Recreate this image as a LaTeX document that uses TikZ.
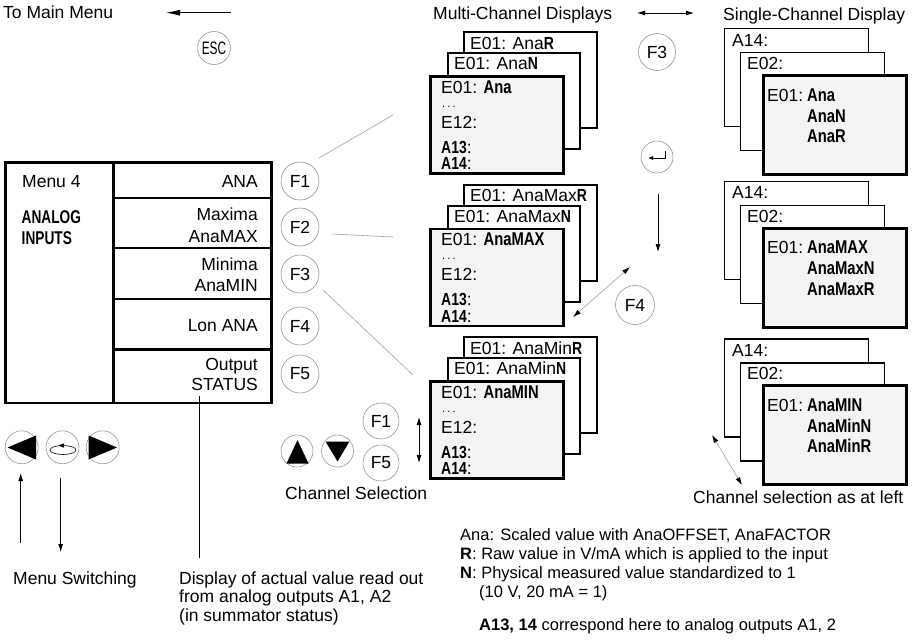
\documentclass[tikz,border=0pt]{standalone}
\usepackage{fontspec}
\setmainfont{Liberation Sans}
\newfontfamily\cbf[FakeStretch=0.8]{Liberation Sans}
\newfontfamily\cbt[FakeStretch=0.74]{Liberation Sans}
\newfontfamily\cnd[FakeStretch=0.66]{Liberation Sans}
\usetikzlibrary{arrows.meta}
\definecolor{keygray}{HTML}{959595}
\definecolor{linkgray}{HTML}{A0A0A0}
\definecolor{panel}{HTML}{F4F4F4}
\newcommand\cb[1]{{\cbf\bfseries\fontsize{18.5}{20}\selectfont #1}}
\newcommand\cs[1]{{\cbf\bfseries\fontsize{17.5}{20}\selectfont #1}}
\newcommand\ct[1]{{\cbt\bfseries\fontsize{18.5}{20}\selectfont #1}}
\tikzset{
  txt/.style={inner sep=0pt, anchor=base west, font=\fontsize{17.5}{20}\selectfont},
  txtr/.style={txt, anchor=base east},
  legtxt/.style={inner sep=0pt, anchor=base west, font=\fontsize{16.5}{19}\selectfont},
  fkey/.style={circle, draw=keygray, line width=0.6pt, minimum size=38pt, inner sep=0pt, font=\fontsize{17.5}{20}\selectfont},
  link/.style={draw=linkgray, line width=0.6pt},
  arr/.style={-{Latex[length=8pt,width=5pt]}, line width=0.8pt},
  darr/.style={{Latex[length=8pt,width=5pt]}-{Latex[length=8pt,width=5pt]}, line width=0.8pt},
  gdarr/.style={{Latex[length=8pt,width=5pt,color=black]}-{Latex[length=8pt,width=5pt,color=black]}, draw=linkgray, line width=0.6pt},
  cell/.style={draw, line width=2.8pt, anchor=north west, inner sep=0pt},
  mbox/.style={draw, fill=white, line width=2.4pt, anchor=north west, inner sep=0pt},
  sbox/.style={draw, fill=white, line width=1.2pt, anchor=north west, inner sep=0pt},
  frontbox/.style={draw, fill=panel, line width=2.8pt, anchor=north west, inner sep=0pt},
}
% multi-channel stack: #1 prefix, #2 shift, #3 R line, #4 N line, #5 first line
\newcommand\mstack[5]{%
\begin{scope}[yshift=-#2pt]
 \node[mbox, minimum width=133pt, minimum height=96pt] (#1b) at (463,31) {};
 \node[mbox, minimum width=132pt, minimum height=96pt] (#1m) at (447,52) {};
 \node[frontbox, minimum width=133pt, minimum height=97pt] (#1f) at (429,75) {};
 \node[txt] (#1tr) at (470,49) {#3};
 \node[txt] (#1tn) at (454,69.5) {#4};
 \node[txt] (#1ta) at (441,93) {#5};
 \node[txt, font=\fontsize{11}{12}\selectfont] (#1tb) at (442,107) {.\kern2.2pt.\kern2.2pt.};
 \node[txt] (#1tc) at (441,128) {E12:};
 \node[txt] (#1td) at (441,153) {\cs{A13}:};
 \node[txt] (#1te) at (441,169.5) {\cs{A14}:};
\end{scope}}
% single-channel stack: #1 prefix, #2 shift, #3 #4 #5 values
\newcommand\sstack[5]{%
\begin{scope}[yshift=-#2pt]
 \node[sbox, minimum width=144pt, minimum height=98pt] (#1b) at (724,28) {};
 \node[sbox, minimum width=144pt, minimum height=98pt] (#1m) at (740,52) {};
 \node[frontbox, minimum width=143pt, minimum height=99pt] (#1f) at (762,74) {};
 \node[txt] (#1ta) at (732,46) {A14:};
 \node[txt] (#1tb) at (747,69.5) {E02:};
 \node[txt] (#1tc) at (767,101) {E01:};
 \node[txt] (#1v1) at (807,101) {\cb{#3}};
 \node[txt] (#1v2) at (807,122) {\cb{#4}};
 \node[txt] (#1v3) at (807,142.5) {\cb{#5}};
\end{scope}}
\begin{document}
\begin{tikzpicture}[x=1pt,y=-1pt]
\useasboundingbox (0,0) rectangle (916,640);
% top left
\node[txt] (tomain) at (3,18) {To Main Menu};
\coordinate (escA) at (231,12.7);
\coordinate (escB) at (166,12.7);
\draw[-{Latex[length=14pt,width=6pt]}, line width=0.8pt] (escA) -- (escB);
\node[fkey, minimum size=33pt, font=\cnd\fontsize{18}{18}\selectfont] (esc) at (214,48) {ESC};
% menu box
\node[cell, minimum width=108pt, minimum height=240.5pt] (mleft) at (4,161) {};
\node[cell, minimum width=158pt, minimum height=35.5pt] (r1) at (112,161) {};
\node[cell, minimum width=158pt, minimum height=50pt] (r2) at (112,196.5) {};
\node[cell, minimum width=158pt, minimum height=51pt] (r3) at (112,246.5) {};
\node[cell, minimum width=158pt, minimum height=50.5pt] (r4) at (112,297.5) {};
\node[cell, minimum width=158pt, minimum height=53.5pt] (r5) at (112,348) {};
\node[txt] (mtitle) at (22,187) {Menu 4};
\node[txt] (an1) at (21.5,223) {\ct{ANALOG}};
\node[txt] (an2) at (21.5,244.5) {\ct{INPUTS}};
\node[txtr] (t1) at (258,187) {ANA};
\node[txtr] (t2a) at (258,220) {Maxima};
\node[txtr] (t2b) at (258,242) {AnaMAX};
\node[txtr] (t3a) at (258,270) {Minima};
\node[txtr] (t3b) at (258,291) {AnaMIN};
\node[txtr] (t4) at (258,331) {Lon ANA};
\node[txtr] (t5a) at (258,370) {Output};
\node[txtr] (t5b) at (258,390) {STATUS};
% F keys
\node[fkey] (f1) at (300,181) {F1};
\node[fkey] (f2) at (300,227) {F2};
\node[fkey] (f3) at (300,274) {F3};
\node[fkey] (f4) at (300,326) {F4};
\node[fkey] (f5) at (300,374) {F5};
\coordinate (l1a) at (319,158); \coordinate (l1b) at (393,115);
\coordinate (l2a) at (332,234); \coordinate (l2b) at (393,237);
\coordinate (l3a) at (323,290); \coordinate (l3b) at (413,375);
\draw[link] (l1a) -- (l1b);
\draw[link] (l2a) -- (l2b);
\draw[link] (l3a) -- (l3b);
% multi-channel displays
\node[txt] (mch) at (433,19) {Multi-Channel Displays};
\node[txt] (sch) at (723,20) {Single-Channel Display};
\coordinate (dA) at (637,13); \coordinate (dB) at (694,13);
\draw[darr] (dA) -- (dB);
\mstack{ma}{0}{E01: Ana\cs{R}}{E01: Ana\cs{N}}{E01: \cb{Ana}}
\mstack{mb}{152.5}{E01: AnaMax\cs{R}}{E01: AnaMax\cs{N}}{E01: \cb{AnaMAX}}
\mstack{mc}{305}{E01: AnaMin\cs{R}}{E01: AnaMin\cs{N}}{E01: \cb{AnaMIN}}
% single-channel displays
\sstack{sa}{0}{Ana}{AnaN}{AnaR}
\sstack{sb}{152.7}{AnaMAX}{AnaMaxN}{AnaMaxR}
\sstack{sc}{310.3}{AnaMIN}{AnaMinN}{AnaMinR}
% right keys
\node[fkey, minimum size=37pt] (rf3) at (657,52) {F3};
\node[fkey, minimum size=32pt] (enter) at (657,157) {};
\draw[-{Latex[length=5pt,width=4pt]}, line width=0.7pt] ([shift={(8,-6)}]enter.center) -- ([shift={(8,1)}]enter.center) -- ([shift={(-9,1)}]enter.center);
\coordinate (dnA) at (658,194); \coordinate (dnB) at (658,252);
\draw[arr] (dnA) -- (dnB);
\node[fkey, minimum size=39pt] (rf4) at (635,305) {F4};
\coordinate (f4A) at (573,317); \coordinate (f4B) at (630,267);
\draw[gdarr] (f4A) -- (f4B);
% channel selection
\node[fkey, minimum size=32pt] (up) at (297,451) {};
\node[fkey, minimum size=32pt] (down) at (337.5,451) {};
\fill (297.5,440) -- (308.5,463.5) -- (286.5,463.5) -- cycle;
\fill (337.5,461.5) -- (325.5,441.5) -- (349.5,441.5) -- cycle;
\node[fkey, minimum size=36pt] (cf1) at (381,421) {F1};
\node[fkey, minimum size=36pt] (cf5) at (381,463) {F5};
\coordinate (csA) at (419,417); \coordinate (csB) at (419,463);
\draw[darr] (csA) -- (csB);
\node[txt] (chsel) at (285,499) {Channel Selection};
% menu switching
\node[fkey, minimum size=33pt] (bl) at (21.7,447.3) {};
\node[fkey, minimum size=33pt] (bm) at (62.5,447.3) {};
\node[fkey, minimum size=33pt] (br) at (102.7,447.3) {};
\fill (7.5,447.5) -- (36,435.5) -- (36,459.5) -- cycle;
\fill (117,447.5) -- (88.5,435.5) -- (88.5,459.5) -- cycle;
\draw[line width=0.6pt] (63,450) ellipse [x radius=13pt, y radius=4.5pt];
\fill (58.5,445.5) -- (64,443.3) -- (64,447.7) -- cycle;
\coordinate (upA) at (20.7,543); \coordinate (upB) at (20.7,473);
\coordinate (dwA) at (60.7,478); \coordinate (dwB) at (60.7,552);
\draw[arr] (upA) -- (upB);
\draw[arr] (dwA) -- (dwB);
\node[txt] (msw) at (13,584) {Menu Switching};
% status line
\coordinate (stA) at (199,396); \coordinate (stB) at (199,558);
\draw[line width=0.8pt] (stA) -- (stB);
\node[txt] (disp1) at (179,584) {Display of actual value read out};
\node[txt] (disp2) at (179,602.5) {from analog outputs A1, A2};
\node[txt] (disp3) at (179,621) {(in summator status)};
% channel selection as at left
\coordinate (asA) at (712,435); \coordinate (asB) at (742,485);
\draw[gdarr] (asA) -- (asB);
\node[txt] (asleft) at (693,503) {Channel selection as at left};
% legend
\node[legtxt] (lg1) at (460,540) {Ana: Scaled value with AnaOFFSET, AnaFACTOR};
\node[legtxt] (lg2) at (460,559) {\textbf{R}: Raw value in V/mA which is applied to the input};
\node[legtxt] (lg3) at (460,578) {\textbf{N}: Physical measured value standardized to 1};
\node[legtxt] (lg4) at (479,597) {(10 V, 20 mA = 1)};
\node[legtxt] (lg5) at (479,630) {\textbf{A13, 14} correspond here to analog outputs A1, 2};
\end{tikzpicture}
\end{document}
